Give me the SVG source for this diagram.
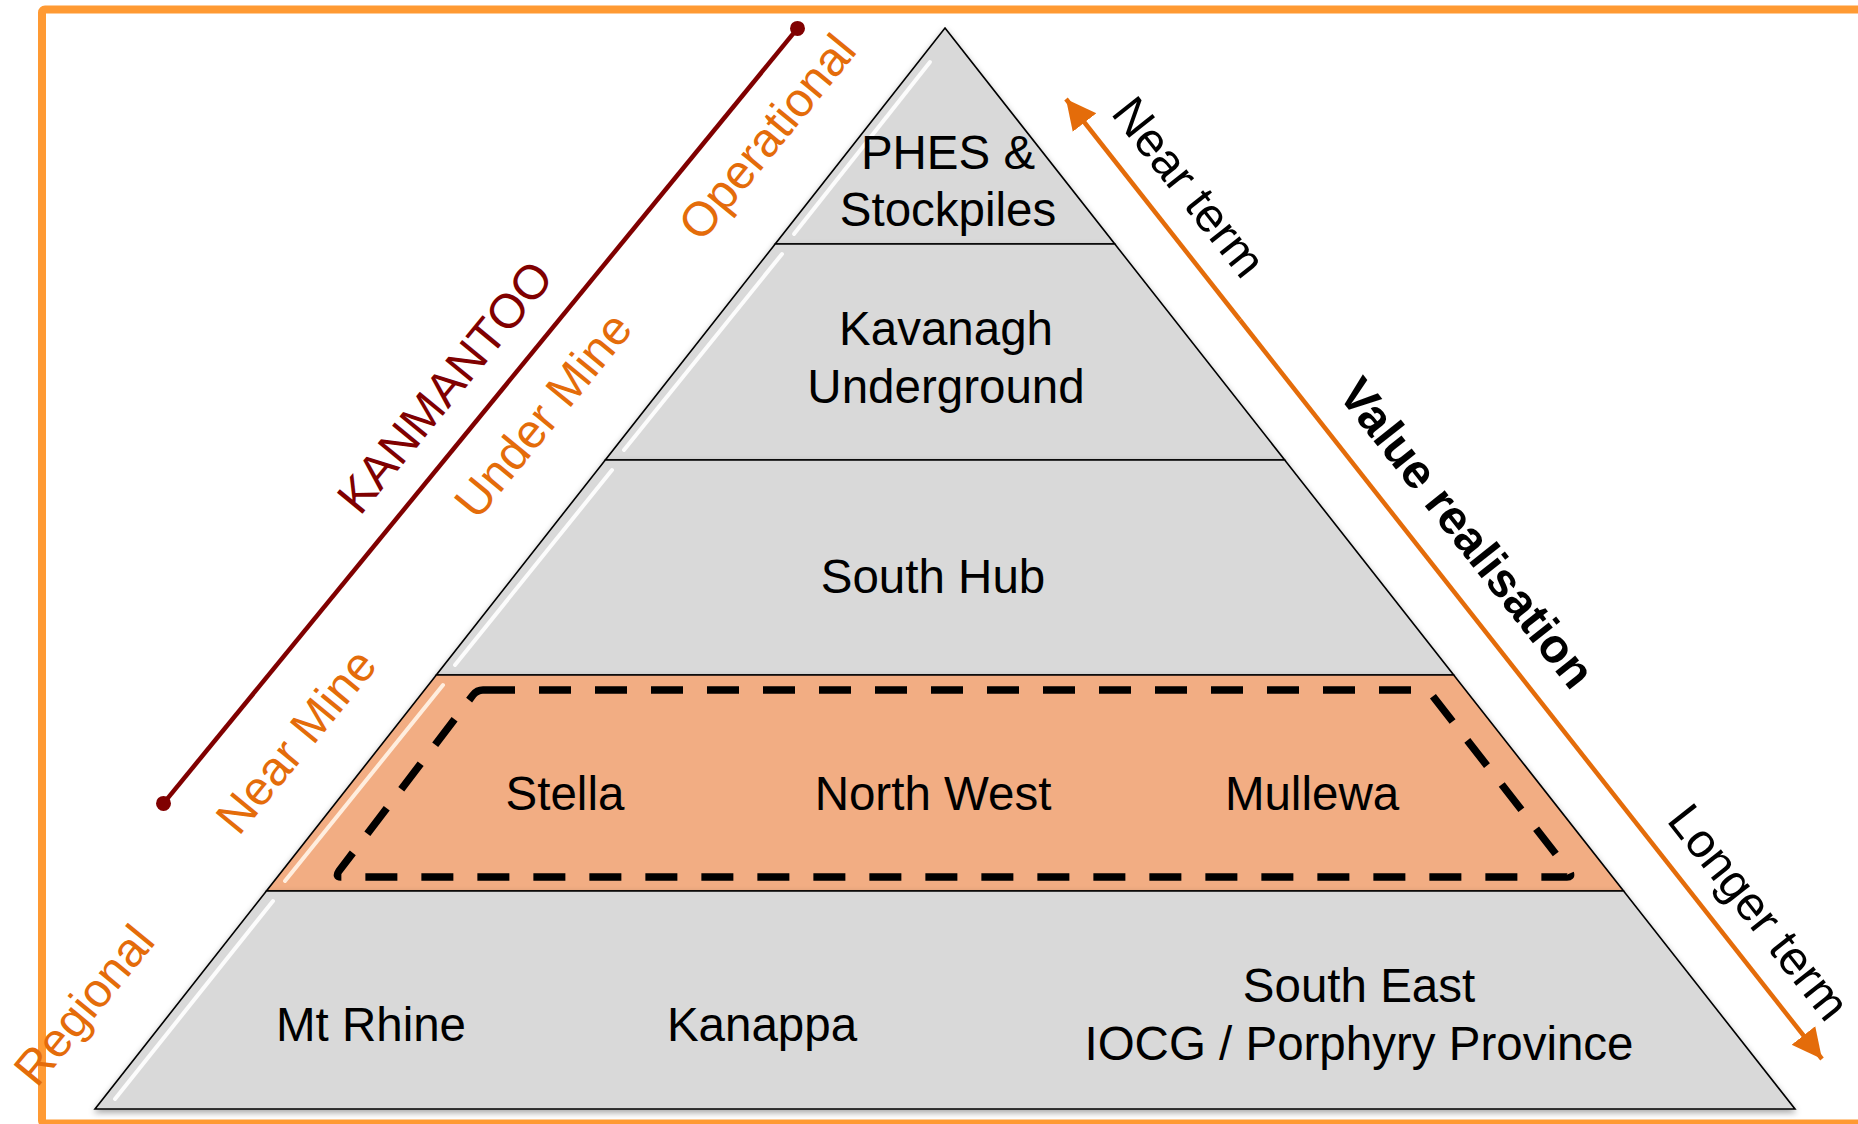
<svg xmlns="http://www.w3.org/2000/svg" width="1858" height="1124" viewBox="0 0 1858 1124">
  <defs>
    <style>
      .layer { stroke: #000; stroke-width: 1.6; stroke-linejoin: miter; filter: url(#shadow); }
      .gray { fill: #D9D9D9; }
      .orange { fill: #F2AD83; }
      .hl { stroke: #FFFFFF; stroke-width: 4; stroke-linecap: round; opacity: 0.9; fill: none; }
      .hl2 { stroke: #FFF1E4; stroke-width: 4; stroke-linecap: round; opacity: 0.95; fill: none; }
      .lbl { font-family: "Liberation Sans", Arial, sans-serif; font-size: 47.5px; fill: #000; text-anchor: middle; }
      .side { font-family: "Liberation Sans", Arial, sans-serif; font-size: 48px; text-anchor: middle; dominant-baseline: central; }
      .org { fill: #E46C0A; }
      .red { fill: #800000; }
      .blk { fill: #000; }
    </style>
    <filter id="shadow" x="-5%" y="-5%" width="110%" height="115%">
      <feDropShadow dx="0" dy="3" stdDeviation="3" flood-color="#000" flood-opacity="0.35"/>
    </filter>
    <marker id="ah" markerUnits="userSpaceOnUse" markerWidth="32" markerHeight="32" refX="30" refY="15" orient="auto">
      <path d="M0,0 L30,15 L0,30 Z" fill="#E46C0A"/>
    </marker>
  </defs>

  <!-- frame -->
  <rect x="42" y="9.5" width="1900" height="1114" rx="3" fill="none" stroke="#FF9A33" stroke-width="8"/>

  <!-- pyramid layers -->
  <g id="layer-phes">
    <polygon class="layer gray" points="945,28 1114.8,244 775.2,244"/>
    <line class="hl" x1="794" y1="234" x2="930" y2="62"/>
    <text class="lbl" x="948" y="169">PHES &amp;</text>
    <text class="lbl" x="948" y="226">Stockpiles</text>
  </g>
  <g id="layer-kavanagh">
    <polygon class="layer gray" points="775.2,244 1114.8,244 1284.7,460 605.3,460"/>
    <line class="hl" x1="624" y1="450" x2="782" y2="254"/>
    <text class="lbl" x="946" y="345">Kavanagh</text>
    <text class="lbl" x="946" y="403">Underground</text>
  </g>
  <g id="layer-southhub">
    <polygon class="layer gray" points="605.3,460 1284.7,460 1453.7,675 436.3,675"/>
    <line class="hl" x1="455" y1="665" x2="612" y2="470"/>
    <text class="lbl" x="933" y="593">South Hub</text>
  </g>
  <g id="layer-nearmine">
    <polygon class="layer orange" points="436.3,675 1453.7,675 1623.6,891 266.4,891"/>
    <line class="hl2" x1="285" y1="881" x2="443" y2="685"/>
    <text class="lbl" x="565" y="810">Stella</text>
    <text class="lbl" x="933" y="810">North West</text>
    <text class="lbl" x="1312" y="810">Mullewa</text>
  </g>
  <g id="layer-regional">
    <polygon class="layer gray" points="266.4,891 1623.6,891 1795,1109 95,1109"/>
    <line class="hl" x1="115" y1="1099" x2="273" y2="901"/>
    <text class="lbl" x="371" y="1041">Mt Rhine</text>
    <text class="lbl" x="762" y="1041">Kanappa</text>
    <text class="lbl" x="1359" y="1002">South East</text>
    <text class="lbl" x="1359" y="1060">IOCG / Porphyry Province</text>
  </g>

  <!-- dashed highlight -->
  <g id="focus-box">
    <path d="M483,690 L1422,690 Q1428,690 1432,695 L1569,871 Q1573,877 1567,877 L341,877 Q335,877 339,871 L473,695 Q477,690 483,690 Z" fill="none" stroke="#000" stroke-width="7.5" stroke-dasharray="32 24" stroke-linejoin="round"/>
  </g>

  <!-- connectors -->
  <g id="connectors">
    <line x1="797.5" y1="28.4" x2="163.5" y2="803.4" stroke="#800000" stroke-width="4.5"/>
    <circle cx="797.5" cy="28.4" r="7.5" fill="#800000"/>
    <circle cx="163.5" cy="803.4" r="7.5" fill="#800000"/>
    <line x1="1240" y1="320" x2="1066" y2="99" stroke="#E46C0A" stroke-width="4.5" marker-end="url(#ah)"/>
    <line x1="1240" y1="320" x2="1822" y2="1059" stroke="#E46C0A" stroke-width="4.5" marker-end="url(#ah)"/>
  </g>

  <!-- side labels -->
  <g id="left-labels">
    <text class="side red" transform="translate(445,387) rotate(-50.7)">KANMANTOO</text>
    <text class="side org" transform="translate(767,137) rotate(-50.7)">Operational</text>
    <text class="side org" transform="translate(543,415) rotate(-50.7)">Under Mine</text>
    <text class="side org" transform="translate(296,741) rotate(-50.7)">Near Mine</text>
    <text class="side org" transform="translate(84,1005) rotate(-50.7)">Regional</text>
  </g>
  <g id="right-labels">
    <text class="side blk" transform="translate(1189,187) rotate(51.7)">Near term</text>
    <text class="side blk" font-weight="bold" transform="translate(1467,533) rotate(51.7)">Value realisation</text>
    <text class="side blk" transform="translate(1759,912) rotate(51.7)">Longer term</text>
  </g>
</svg>
